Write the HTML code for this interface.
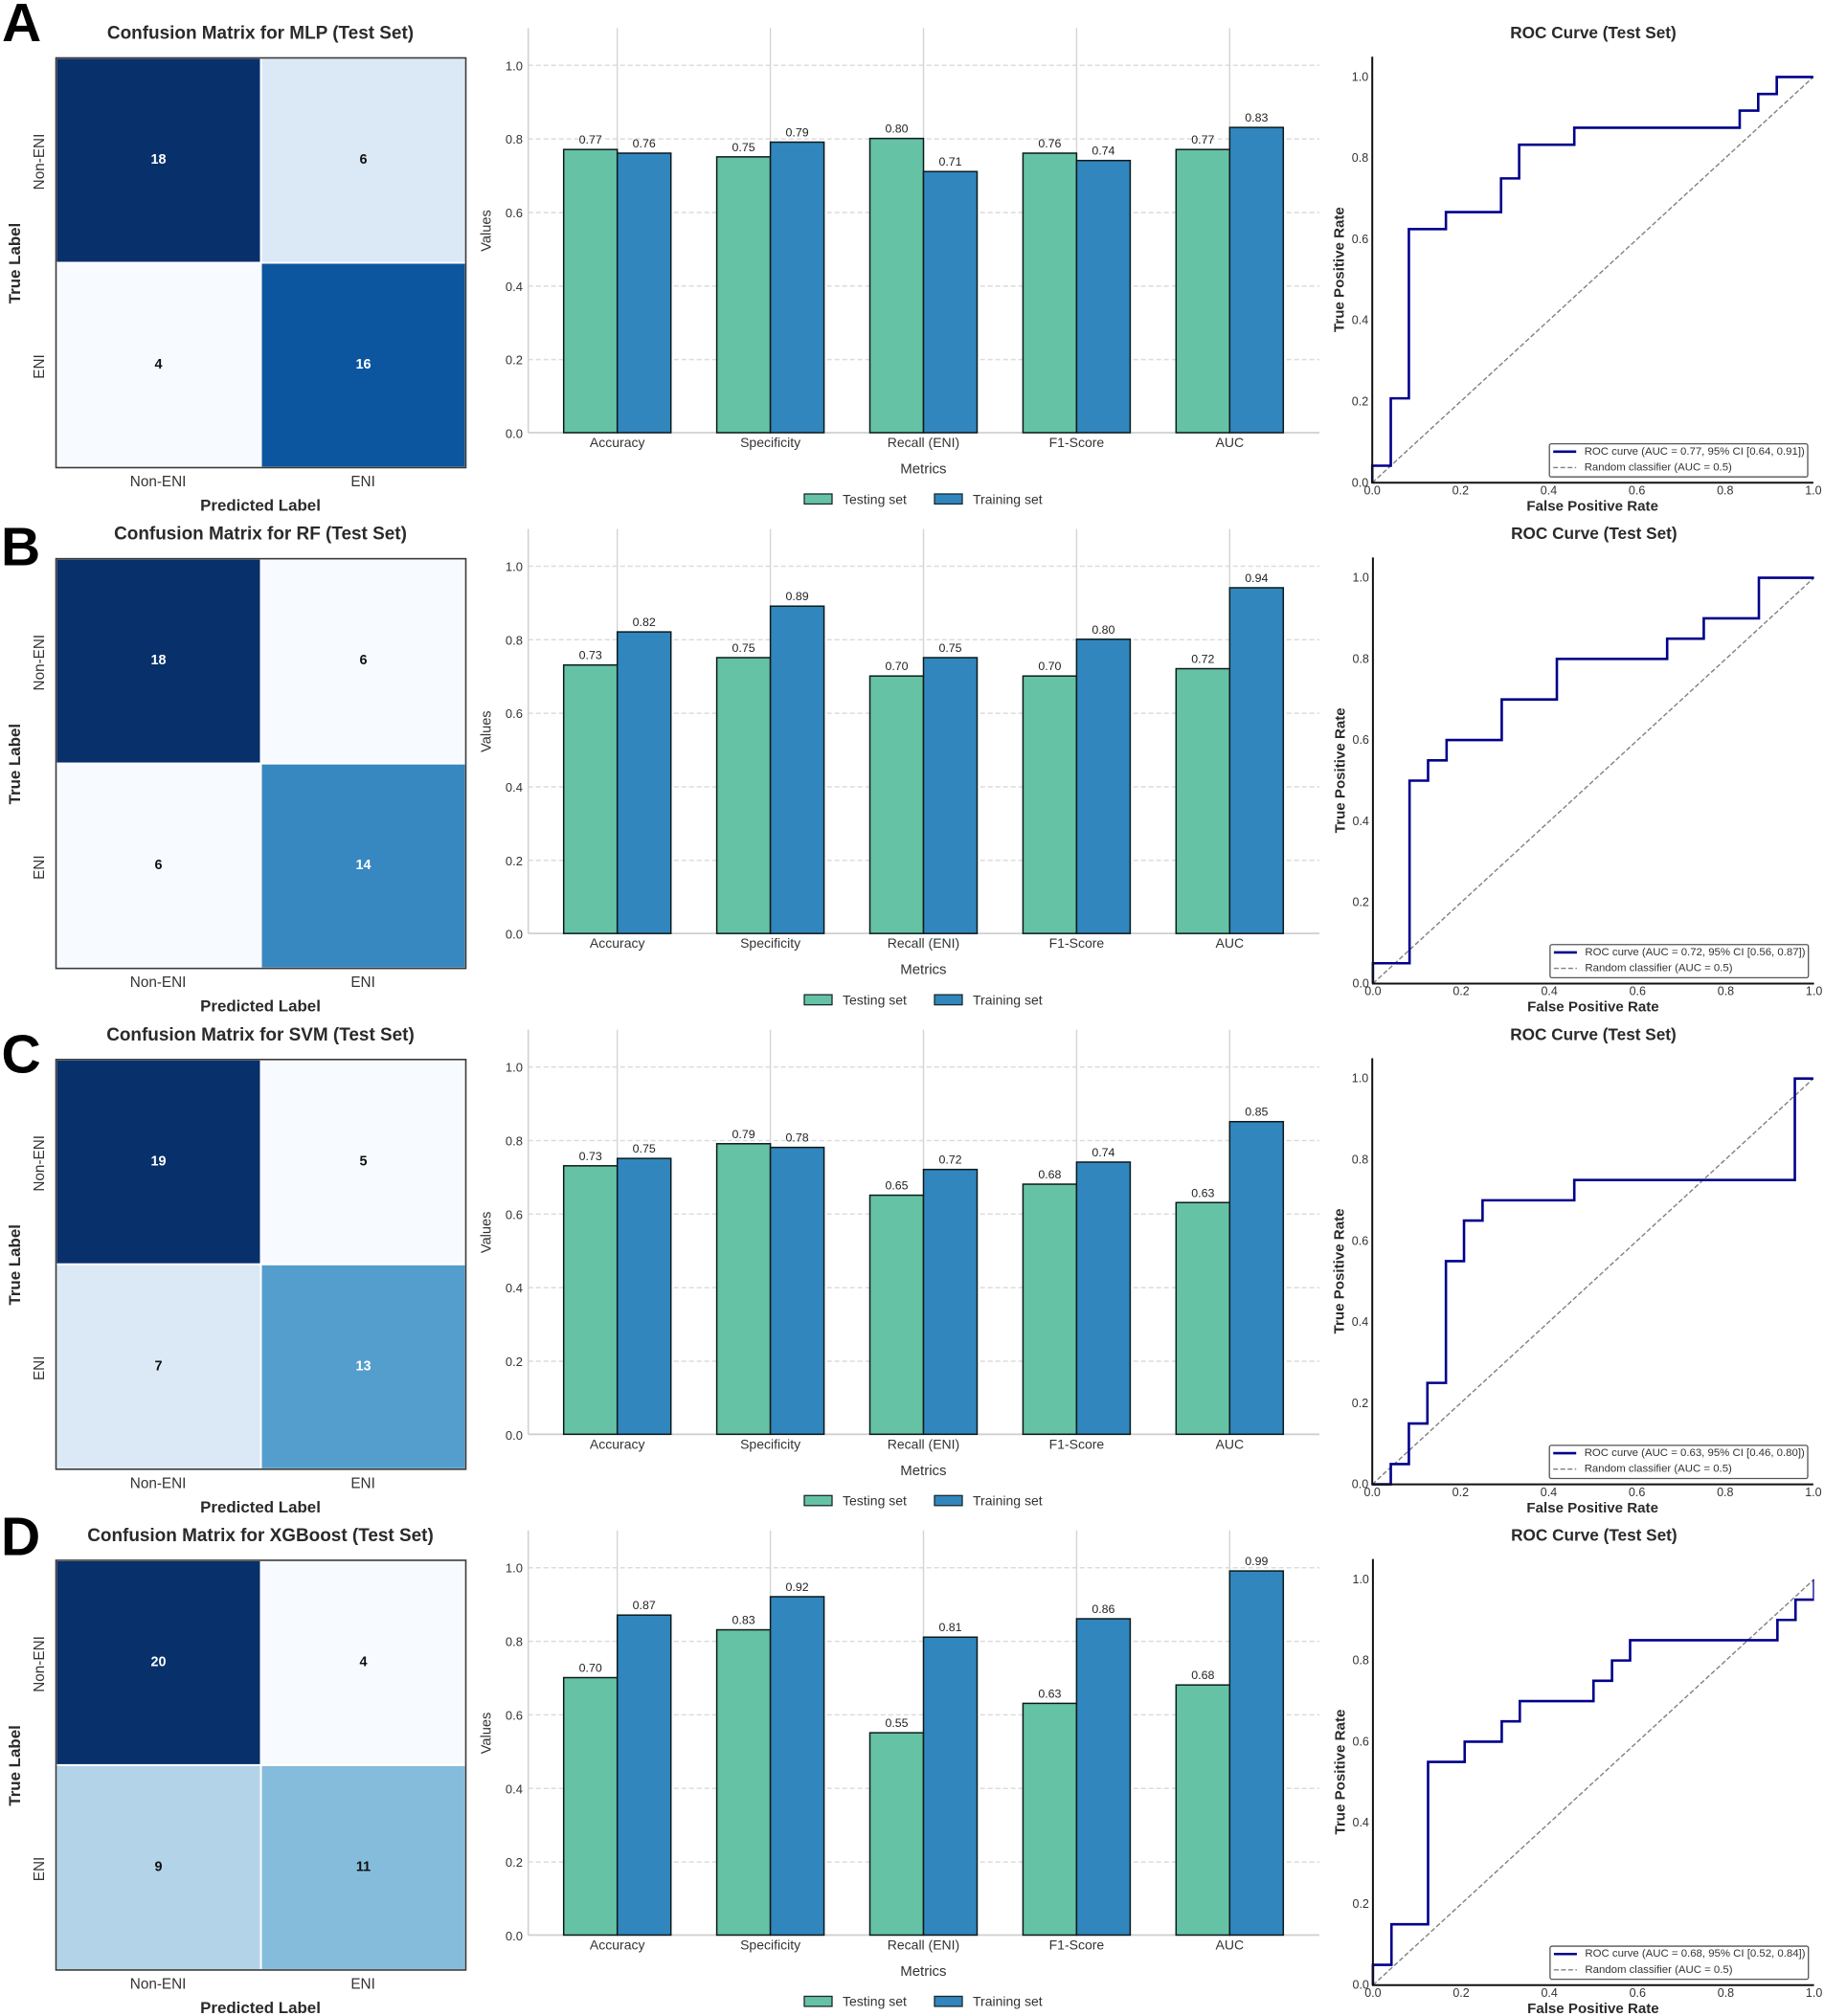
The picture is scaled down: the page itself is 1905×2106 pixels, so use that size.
<!DOCTYPE html>
<html lang="en">
<head>
<meta charset="utf-8">
<title>Model performance: confusion matrices, metrics and ROC curves</title>
<style>
html,body{margin:0;padding:0;background:#fff;}
#figure{display:block;width:1905px;height:2106px;font-family:"Liberation Sans",Arial,sans-serif;}
text{font-family:"Liberation Sans",Arial,sans-serif;}
</style>
</head>
<body>
<svg id="figure" xmlns="http://www.w3.org/2000/svg" width="1905" height="2106" viewBox="0 0 1905 2106"></svg>
<script>
// ---------- data ----------
const modelNames = ['MLP', 'RF', 'SVM', 'XGBoost'];
const panelLetters = ['A', 'B', 'C', 'D'];
const classLabels = ['Non-ENI', 'ENI'];
const metricNames = ['Accuracy', 'Specificity', 'Recall (ENI)', 'F1-Score', 'AUC'];
const seriesNames = ['Testing set', 'Training set'];
const valueTicks = [0.0, 0.2, 0.4, 0.6, 0.8, 1.0];
const rocTicks = [0.0, 0.2, 0.4, 0.6, 0.8, 1.0];

const confusionMlp = [[18, 6], [4, 16]];
const confusionRf = [[18, 6], [6, 14]];
const confusionSvm = [[19, 5], [7, 13]];
const confusionXgb = [[20, 4], [9, 11]];

const testingMlp = [0.77, 0.75, 0.80, 0.76, 0.77];
const trainingMlp = [0.76, 0.79, 0.71, 0.74, 0.83];
const testingRf = [0.73, 0.75, 0.70, 0.70, 0.72];
const trainingRf = [0.82, 0.89, 0.75, 0.80, 0.94];
const testingSvm = [0.73, 0.79, 0.65, 0.68, 0.63];
const trainingSvm = [0.75, 0.78, 0.72, 0.74, 0.85];
const testingXgb = [0.70, 0.83, 0.55, 0.63, 0.68];
const trainingXgb = [0.87, 0.92, 0.81, 0.86, 0.99];

const fprMlp = [0, 0, 0.042, 0.042, 0.083, 0.083, 0.167, 0.167, 0.292, 0.292, 0.333, 0.333, 0.458, 0.458, 0.833, 0.833, 0.875, 0.875, 0.917, 0.917, 1];
const tprMlp = [0, 0.042, 0.042, 0.208, 0.208, 0.625, 0.625, 0.667, 0.667, 0.75, 0.75, 0.833, 0.833, 0.875, 0.875, 0.917, 0.917, 0.958, 0.958, 1, 1];
const fprRf = [0, 0, 0.083, 0.083, 0.125, 0.125, 0.167, 0.167, 0.292, 0.292, 0.417, 0.417, 0.667, 0.667, 0.75, 0.75, 0.875, 0.875, 1];
const tprRf = [0, 0.05, 0.05, 0.5, 0.5, 0.55, 0.55, 0.6, 0.6, 0.7, 0.7, 0.8, 0.8, 0.85, 0.85, 0.9, 0.9, 1, 1];
const fprSvm = [0, 0.042, 0.042, 0.083, 0.083, 0.125, 0.125, 0.167, 0.167, 0.208, 0.208, 0.25, 0.25, 0.458, 0.458, 0.958, 0.958, 1];
const tprSvm = [0, 0, 0.05, 0.05, 0.15, 0.15, 0.25, 0.25, 0.55, 0.55, 0.65, 0.65, 0.7, 0.7, 0.75, 0.75, 1, 1];
const fprXgb = [0, 0, 0.042, 0.042, 0.125, 0.125, 0.208, 0.208, 0.292, 0.292, 0.333, 0.333, 0.5, 0.5, 0.542, 0.542, 0.583, 0.583, 0.917, 0.917, 0.958, 0.958, 1, 1];
const tprXgb = [0, 0.05, 0.05, 0.15, 0.15, 0.55, 0.55, 0.6, 0.6, 0.65, 0.65, 0.7, 0.7, 0.75, 0.75, 0.8, 0.8, 0.85, 0.85, 0.9, 0.9, 0.95, 0.95, 1];

const aucLabels = ['0.77', '0.72', '0.63', '0.68'];
const ciLabels = ['[0.64, 0.91]', '[0.56, 0.87]', '[0.46, 0.80]', '[0.52, 0.84]'];

const confusionAll = [confusionMlp, confusionRf, confusionSvm, confusionXgb];
const testingAll = [testingMlp, testingRf, testingSvm, testingXgb];
const trainingAll = [trainingMlp, trainingRf, trainingSvm, trainingXgb];
const fprAll = [fprMlp, fprRf, fprSvm, fprXgb];
const tprAll = [tprMlp, tprRf, tprSvm, tprXgb];

// Matplotlib "Blues" colormap anchors
const bluesStops = ['#f7fbff', '#deebf7', '#c6dbef', '#9ecae1', '#6baed6', '#4292c6', '#2171b5', '#08519c', '#08306b'];

// ---------- layout helpers ----------
const SVG_NS = 'http://www.w3.org/2000/svg';
const figure = document.getElementById('figure');

function make(tag, attrs, parent, content) {
  const node = document.createElementNS(SVG_NS, tag);
  for (const key in attrs) node.setAttribute(key, attrs[key]);
  if (content !== undefined) node.textContent = content;
  parent.appendChild(node);
  return node;
}

function rowShift(row) { return row * 523.15; }

// confusion-matrix axes
const cmLeft = 58.5, cmTop = 60.5, cmSize = 428;
function cmX(col) { return cmLeft + col * cmSize / 2; }
function cmY(rowIndex) { return cmTop + rowIndex * cmSize / 2; }

// bar axes
const barZeroY = 452, barUnit = 384.2, barFirstX = 644.7, barStep = 159.9, barWidth = 56;
const barLeft = 551.7, barRight = 1378, barTop = 29.3;
function barY(v) { return barZeroY - v * barUnit; }
function barCat(i) { return barFirstX + i * barStep; }

// roc axes
const rocZeroY = 504.3, rocUnitY = 423.9, rocUnitX = 460.7;
function rocX0(row) { return 1433.2 + (row % 2 ? 0.7 : 0); }
function rocX(f, row) { return rocX0(row) + f * rocUnitX; }
function rocY(t) { return rocZeroY - t * rocUnitY; }

function hexToRgb(h) { return [1, 3, 5].map(function (p) { return parseInt(h.substr(p, 2), 16); }); }
function blues(t) {
  const pos = Math.max(0, Math.min(1, t)) * (bluesStops.length - 1);
  const lo = Math.min(Math.floor(pos), bluesStops.length - 2);
  const f = pos - lo;
  const a = hexToRgb(bluesStops[lo]), b = hexToRgb(bluesStops[lo + 1]);
  return 'rgb(' + a.map(function (c, i) { return Math.round(c + (b[i] - c) * f); }).join(',') + ')';
}

// ---------- confusion matrix ----------
function drawConfusion(row, parent) {
  const matrix = confusionAll[row];
  const flat = matrix[0].concat(matrix[1]);
  const minV = Math.min.apply(null, flat), maxV = Math.max.apply(null, flat);
  const g = make('g', {}, parent);
  
  

  const title = make('text', { x: 272, y: 35, 'text-anchor': 'middle', 'dominant-baseline': 'central', 'font-size': 18.95, 'font-weight': 'bold', fill: '#2a2a2a' }, g, 'Confusion Matrix for ' + modelNames[row] + ' (Test Set)');
  
  

  matrix.forEach(function (cells, r) {
    cells.forEach(function (value, c) {
      const t = (value - minV) / (maxV - minV);
      const cell = make('rect', { x: cmX(c), y: cmY(r), width: cmSize / 2, height: cmSize / 2, fill: blues(t), stroke: '#fff', 'stroke-width': 2 }, g);
      
      
      const label = make('text', { x: cmX(c) + cmSize / 4, y: cmY(r) + cmSize / 4 - 0.5, 'text-anchor': 'middle', 'dominant-baseline': 'central', 'font-size': 14.4, 'font-weight': 'bold', fill: t > 0.5 ? '#fff' : '#111' }, g, String(value));
      
      
    });
  });

  const frame = make('rect', { x: cmLeft, y: cmTop, width: cmSize, height: cmSize, fill: 'none', stroke: '#3a3a3a', 'stroke-width': 1.6 }, g);
  
  

  classLabels.forEach(function (name, i) {
    const xTick = make('text', { x: cmX(i) + cmSize / 4 - 0.4, y: 503.6, 'text-anchor': 'middle', 'dominant-baseline': 'central', 'font-size': 15.3, fill: '#333' }, g, name);
    
    
    const yy = cmY(i) + cmSize / 4 + 1.5;
    const yTick = make('text', { x: 41.5, y: yy, 'text-anchor': 'middle', 'dominant-baseline': 'central', 'font-size': 15.3, fill: '#333', transform: 'rotate(-90 41.5 ' + yy + ')' }, g, name);
    
    
  });

  const xTitle = make('text', { x: 272, y: 528, 'text-anchor': 'middle', 'dominant-baseline': 'central', 'font-size': 16.9, 'font-weight': 'bold', fill: '#2a2a2a' }, g, 'Predicted Label');
  
  
  const yTitle = make('text', { x: 15.7, y: 275, 'text-anchor': 'middle', 'dominant-baseline': 'central', 'font-size': 16.9, 'font-weight': 'bold', fill: '#2a2a2a', transform: 'rotate(-90 15.7 275)' }, g, 'True Label');
  
  
}

// ---------- bar chart ----------
function drawBars(row, parent) {
  const testing = testingAll[row], training = trainingAll[row];
  const g = make('g', {}, parent);
  
  

  valueTicks.forEach(function (v) {
    if (v > 0) {
      const grid = make('line', { x1: barLeft, x2: barRight, y1: barY(v) + 0.5, y2: barY(v) + 0.5, stroke: '#dcdcdc', 'stroke-width': 1.5, 'stroke-dasharray': '5 3' }, g);
      
      
    }
    const tick = make('text', { x: 546, y: barY(v) + 1, 'text-anchor': 'end', 'dominant-baseline': 'central', 'font-size': 13, fill: '#333' }, g, v.toFixed(1));
    
    
  });

  metricNames.forEach(function (name, i) {
    const vGrid = make('line', { x1: barCat(i), x2: barCat(i), y1: barTop, y2: barZeroY, stroke: '#d4d4d4', 'stroke-width': 1.4 }, g);
    
    
  });

  const leftSpine = make('line', { x1: barLeft, x2: barLeft, y1: barTop, y2: barZeroY, stroke: '#d0d0d0', 'stroke-width': 1.5 }, g);
  
  
  const bottomSpine = make('line', { x1: barLeft, x2: barRight, y1: barZeroY, y2: barZeroY, stroke: '#d0d0d0', 'stroke-width': 1.8 }, g);
  
  

  metricNames.forEach(function (name, i) {
    const testBar = make('rect', { x: barCat(i) - barWidth, y: barY(testing[i]), width: barWidth, height: barZeroY - barY(testing[i]), fill: '#66c2a5', stroke: '#0c1a1c', 'stroke-width': 1.5 }, g);
    
    
    const trainBar = make('rect', { x: barCat(i), y: barY(training[i]), width: barWidth, height: barZeroY - barY(training[i]), fill: '#3186bd', stroke: '#0c1a1c', 'stroke-width': 1.5 }, g);
    
    

    const testValue = make('text', { x: barCat(i) - barWidth / 2, y: barY(testing[i]) - 6, 'text-anchor': 'middle', 'font-size': 12.4, fill: '#222' }, g, testing[i].toFixed(2));
    
    
    const trainValue = make('text', { x: barCat(i) + barWidth / 2, y: barY(training[i]) - 6, 'text-anchor': 'middle', 'font-size': 12.4, fill: '#222' }, g, training[i].toFixed(2));
    
    

    const catLabel = make('text', { x: barCat(i), y: 462, 'text-anchor': 'middle', 'dominant-baseline': 'central', 'font-size': 14, fill: '#333' }, g, name);
    
    
  });

  const metricsTitle = make('text', { x: 964.4, y: 490, 'text-anchor': 'middle', 'dominant-baseline': 'central', 'font-size': 15, fill: '#333' }, g, 'Metrics');
  
  
  const valuesTitle = make('text', { x: 508.5, y: 241, 'text-anchor': 'middle', 'dominant-baseline': 'central', 'font-size': 14.6, fill: '#333', transform: 'rotate(-90 508.5 241)' }, g, 'Values');
  
  

  // legend
  const swatchColors = ['#66c2a5', '#3186bd'];
  const swatchLefts = [840, 976];
  seriesNames.forEach(function (name, i) {
    const patch = make('rect', { x: swatchLefts[i], y: 516, width: 29, height: 10.5, fill: swatchColors[i], stroke: '#1a2a2e', 'stroke-width': 1.3 }, g);
    
    
    const entry = make('text', { x: swatchLefts[i] + 40, y: 521.3, 'dominant-baseline': 'central', 'font-size': 14, fill: '#333' }, g, name);
    
    
  });
}

// ---------- ROC curve ----------
function drawRoc(row, parent) {
  const fpr = fprAll[row], tpr = tprAll[row];
  const x0 = rocX0(row), x1 = rocX(1, row);
  const g = make('g', {}, parent);
  
  

  const clip = make('clipPath', { id: 'roc-clip-' + row }, g);
  make('rect', { x: x0 - 3, y: rocY(1.05), width: x1 - x0 + 3, height: rocY(0) - rocY(1.05) + 3 }, clip);

  const title = make('text', { x: 1664 + (row % 2 ? 0.9 : 0), y: 34, 'text-anchor': 'middle', 'dominant-baseline': 'central', 'font-size': 17.2, 'font-weight': 'bold', fill: '#2a2a2a' }, g, 'ROC Curve (Test Set)');
  
  

  const diagonal = make('line', { x1: rocX(0, row), y1: rocY(0), x2: rocX(1, row), y2: rocY(1), stroke: '#808080', 'stroke-width': 1.4, 'stroke-dasharray': '5 2.5' }, g);
  
  

  const pts = fpr.map(function (f, i) { return rocX(f, row).toFixed(2) + ',' + rocY(tpr[i]).toFixed(2); }).join(' ');
  const curve = make('polyline', { points: pts, fill: 'none', stroke: '#00008b', 'stroke-width': 2.6, 'stroke-linejoin': 'miter', 'clip-path': 'url(#roc-clip-' + row + ')' }, g);
  
  

  const yAxis = make('line', { x1: x0, x2: x0, y1: rocY(1.05), y2: rocY(0), stroke: '#111', 'stroke-width': 2 }, g);
  
  
  const xAxis = make('line', { x1: x0 - 1, x2: x1, y1: rocY(0), y2: rocY(0), stroke: '#111', 'stroke-width': 2 }, g);
  
  

  rocTicks.forEach(function (v) {
    const xt = make('text', { x: rocX(v, row), y: 512.5, 'text-anchor': 'middle', 'dominant-baseline': 'central', 'font-size': 12.5, fill: '#333' }, g, v.toFixed(1));
    
    
    const yt = make('text', { x: x0 - 4, y: rocY(v), 'text-anchor': 'end', 'dominant-baseline': 'central', 'font-size': 12.5, fill: '#333' }, g, v.toFixed(1));
    
    
  });

  const xTitle = make('text', { x: x0 + 230, y: 529, 'text-anchor': 'middle', 'dominant-baseline': 'central', 'font-size': 15.1, 'font-weight': 'bold', fill: '#2a2a2a' }, g, 'False Positive Rate');
  
  
  const yTitle = make('text', { x: x0 - 34, y: 281.6, 'text-anchor': 'middle', 'dominant-baseline': 'central', 'font-size': 15.1, 'font-weight': 'bold', fill: '#2a2a2a', transform: 'rotate(-90 ' + (x0 - 34) + ' 281.6)' }, g, 'True Positive Rate');
  
  

  // legend
  const box = make('rect', { x: x0 + 185, y: 463.6, width: 269.8, height: 34.6, rx: 2, fill: '#fff', stroke: '#555', 'stroke-width': 1.3 }, g);
  
  
  const key1 = make('line', { x1: x0 + 189, x2: x0 + 213, y1: 471.8, y2: 471.8, stroke: '#00008b', 'stroke-width': 2.6 }, g);
  
  
  const key2 = make('line', { x1: x0 + 189, x2: x0 + 213, y1: 488.4, y2: 488.4, stroke: '#808080', 'stroke-width': 1.4, 'stroke-dasharray': '5 2.5' }, g);
  
  
  const text1 = make('text', { x: x0 + 221.5, y: 471.8, 'dominant-baseline': 'central', 'font-size': 11.4, fill: '#333' }, g, 'ROC curve (AUC = ' + aucLabels[row] + ', 95% CI ' + ciLabels[row] + ')');
  
  
  const text2 = make('text', { x: x0 + 221.5, y: 488.4, 'dominant-baseline': 'central', 'font-size': 11.4, fill: '#333' }, g, 'Random classifier (AUC = 0.5)');
  
  
}

// ---------- assemble ----------
modelNames.forEach(function (model, row) {
  const rowGroup = make('g', { transform: 'translate(0 ' + rowShift(row) + ')' }, figure);
  
  
  drawConfusion(row, rowGroup);
  drawBars(row, rowGroup);
  drawRoc(row, rowGroup);
});

const letterBaseA = make('text', { x: 2, y: 43, 'font-size': 57, 'font-weight': 'bold', fill: '#000' }, figure, panelLetters[0]);


const letterBaseB = make('text', { x: 1, y: 590.5, 'font-size': 57, 'font-weight': 'bold', fill: '#000' }, figure, panelLetters[1]);


const letterBaseC = make('text', { x: 1.5, y: 1120.5, 'font-size': 57, 'font-weight': 'bold', fill: '#000' }, figure, panelLetters[2]);


const letterBaseD = make('text', { x: 1, y: 1624.5, 'font-size': 57, 'font-weight': 'bold', fill: '#000' }, figure, panelLetters[3]);


</script>
</body>
</html>
